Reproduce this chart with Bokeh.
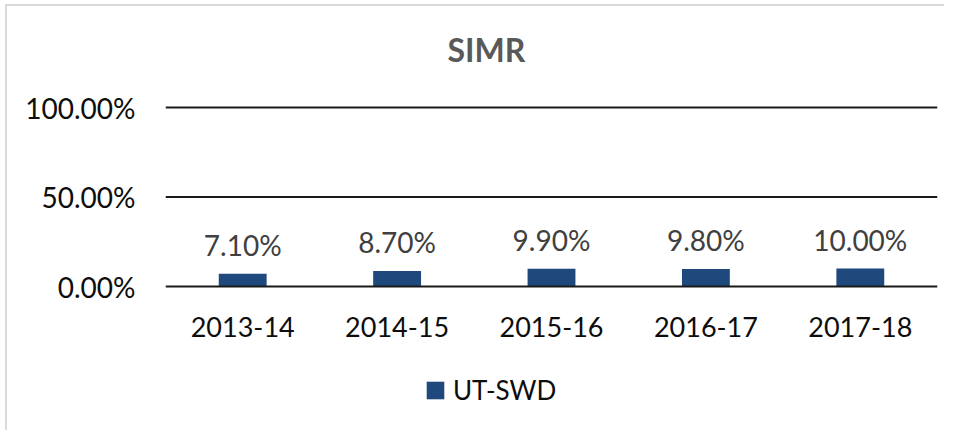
from bokeh.plotting import figure
from bokeh.models import (FactorRange, Range1d, FixedTicker, NumeralTickFormatter,
                          Legend, LegendItem, Title, ColumnDataSource, Span)
from bokeh.core.properties import value
from bokeh.embed import file_html
from bokeh.resources import INLINE

categories = ["2013-14", "2014-15", "2015-16", "2016-17", "2017-18"]
values = [0.071, 0.087, 0.099, 0.098, 0.100]
value_labels = ["7.10%", "8.70%", "9.90%", "9.80%", "10.00%"]
y_ticks = [0.0, 0.5, 1.0]
series_name = "UT-SWD"
chart_title = "SIMR"

FONT = "Lato"
BAR_COLOR = "#1F497D"

W, H = 954, 430
FRAME_TOP, FRAME_BOTTOM = 70, 420          # frame edges in canvas pixels
ZERO_PX, ONE_PX = 286, 107                 # where 0 % and 100 % sit
px_per_unit = ZERO_PX - ONE_PX
y_end = (ZERO_PX - FRAME_TOP) / px_per_unit
y_start = -(FRAME_BOTTOM - ZERO_PX) / px_per_unit

src = ColumnDataSource(dict(cat=categories, val=values, lab=value_labels,
                            base=[0.0] * len(categories)))

p = figure(width=W, height=H,
           x_range=FactorRange(*categories), y_range=Range1d(y_start, y_end),
           output_backend="svg", toolbar_location=None,
           min_border_left=165, min_border_right=17,
           min_border_top=FRAME_TOP, min_border_bottom=H - FRAME_BOTTOM)
p.outline_line_color = None
p.border_fill_alpha = 0
p.styles = {
    "background": "linear-gradient(#d9d9d9,#d9d9d9) 5px 4px / 2px 100% no-repeat, "
                  "linear-gradient(#d9d9d9,#d9d9d9) 5px 4px / 939px 2px no-repeat, #ffffff"
}

bars = p.vbar(x="cat", top="val", bottom="base", width=0.31, source=src,
              fill_color=BAR_COLOR, line_color=None)

# data labels
p.text(x="cat", y="val", text="lab", source=src,
       text_align="center", text_baseline="alphabetic", y_offset=-29,
       text_font=value(FONT), text_font_size="28px", text_color="#404040")

# category labels under the zero line
p.text(x="cat", y="base", text="cat", source=src,
       text_align="center", text_baseline="alphabetic", y_offset=40,
       text_font=value(FONT), text_font_size="27px", text_color="#0d0d0d")

# horizontal gridlines
p.xgrid.visible = False
p.ygrid.visible = False
for t in y_ticks:
    p.add_layout(Span(location=t, dimension="width",
                      line_color="#1a1a1a", line_width=2))

# y axis
p.yaxis.ticker = FixedTicker(ticks=y_ticks)
p.yaxis.formatter = NumeralTickFormatter(format="0.00%")
p.yaxis.axis_line_color = None
p.yaxis.major_tick_line_color = None
p.yaxis.minor_tick_line_color = None
p.yaxis.major_label_standoff = 24
p.yaxis.major_label_text_font = FONT
p.yaxis.major_label_text_font_size = "28px"
p.yaxis.major_label_text_color = "#0d0d0d"

p.xaxis.visible = False

# title
p.add_layout(Title(text=chart_title, align="left", offset=282, standoff=3,
                   text_font=FONT, text_font_size="32px", text_font_style="bold",
                   text_color="#595959"), "above")

# legend
legend = Legend(items=[LegendItem(label=series_name, renderers=[bars])],
                location=(259, 14), orientation="horizontal",
                padding=0, margin=0, spacing=0,
                glyph_width=22, glyph_height=22, label_standoff=7,
                label_text_font=FONT, label_text_font_size="26px",
                label_text_color="#0d0d0d",
                background_fill_alpha=0, border_line_color=None)
p.add_layout(legend, "center")

open("out.html", "w").write(file_html(p, INLINE))
